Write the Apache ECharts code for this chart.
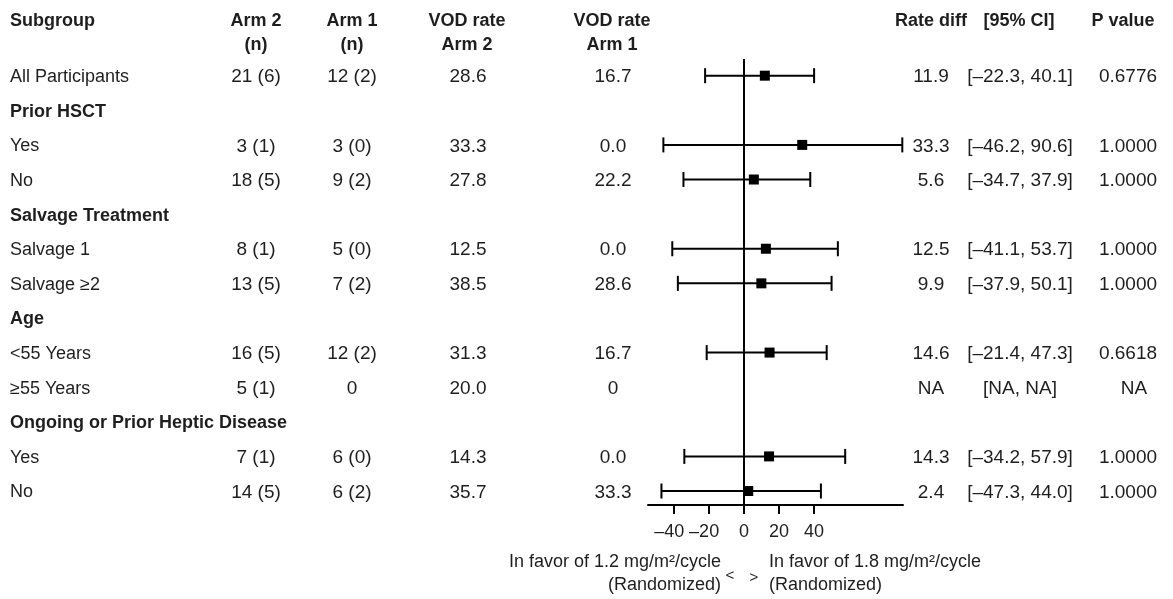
<!DOCTYPE html>
<html>
<head>
<meta charset="utf-8">
<script src="https://cdn.jsdelivr.net/npm/echarts@6/dist/echarts.min.js"></script>
<style>html,body{margin:0;padding:0;background:#fff;}#c{width:1173px;height:599px;}</style>
</head>
<body>
<div id="c"></div>
<script>
// ---- data ----
const subgroups = ["All Participants","Prior HSCT","Yes","No","Salvage Treatment","Salvage 1","Salvage \u22652","Age","<55 Years","\u226555 Years","Ongoing or Prior Heptic Disease","Yes","No"];
const isGroupHeader = [false,true,false,false,true,false,false,true,false,false,true,false,false];
const arm2N = ["21 (6)","","3 (1)","18 (5)","","8 (1)","13 (5)","","16 (5)","5 (1)","","7 (1)","14 (5)"];
const arm1N = ["12 (2)","","3 (0)","9 (2)","","5 (0)","7 (2)","","12 (2)","0","","6 (0)","6 (2)"];
const vodArm2 = ["28.6","","33.3","27.8","","12.5","38.5","","31.3","20.0","","14.3","35.7"];
const vodArm1 = ["16.7","","0.0","22.2","","0.0","28.6","","16.7","0","","0.0","33.3"];
const rateDiff = [11.9,null,33.3,5.6,null,12.5,9.9,null,14.6,'NA',null,14.3,2.4];
const ciLow   = [-22.3,null,-46.2,-34.7,null,-41.1,-37.9,null,-21.4,'NA',null,-34.2,-47.3];
const ciHigh  = [40.1,null,90.6,37.9,null,53.7,50.1,null,47.3,'NA',null,57.9,44.0];
const pValue  = ["0.6776","","1.0000","1.0000","","1.0000","1.0000","","0.6618","NA","","1.0000","1.0000"];
const xTicks = [-40,-20,0,20,40];

// ---- styling ----
const FONT = '"Liberation Sans", Arial, Helvetica, sans-serif';
const FS = 18;
const FSN = 19;
const TXT = '#1e1e1e';
const col = {sub:10, arm2:256, arm1:352, vod2:468, vod1:613, diff:931, ci:1020, p:1128};

const fmt = v => (typeof v === 'number') ? v.toFixed(1).replace('-', '\u2013') : v;
const isNum = v => typeof v === 'number';

const tableData = subgroups.map((s, i) => [0, i]);
const barData = [];
const pointData = [];
subgroups.forEach((s, i) => {
  if (isNum(ciLow[i]) && isNum(ciHigh[i])) barData.push([ciLow[i], ciHigh[i], i]);
  if (isNum(rateDiff[i])) pointData.push([rateDiff[i], i]);
});

const chart = echarts.init(document.getElementById('c'), null, {renderer: 'canvas'});

function textEl(text, x, y, align, bold, fs) {
  return {type: 'text', silent: true, style: {text, x, y, align, verticalAlign: 'middle',
    fontSize: fs || FS, fontFamily: FONT, fontWeight: bold ? 'bold' : 'normal', fill: TXT}};
}

const headerStyle = (text, x, align) => ({
  type: 'text', silent: true,
  style: {text, x, y: 9, align, verticalAlign: 'top', lineHeight: 24,
    fontSize: FS, fontFamily: FONT, fontWeight: 'bold', fill: TXT}
});

const option = {
  animation: false,
  backgroundColor: '#fff',
  grid: {left: 648, right: 270, top: 59, bottom: 94, containLabel: false},
  xAxis: {
    type: 'value', min: -55, max: 91,
    splitLine: {show: false},
    axisLine: {show: true, onZero: false, lineStyle: {color: '#000', width: 2}},
    axisTick: {show: true, customValues: xTicks, length: 9, lineStyle: {color: '#000', width: 2}},
    axisLabel: {
      show: true, customValues: xTicks, margin: 18,
      fontSize: FS, fontFamily: FONT, color: TXT,
      formatter: v => v < 0 ? ('\u2013' + Math.abs(v) + '{pad|}') : String(v),
      rich: {pad: {width: 10}}
    }
  },
  yAxis: {
    type: 'value', inverse: true, min: -0.482, max: 12.404, show: false
  },
  graphic: [
    headerStyle('Subgroup', col.sub, 'left'),
    headerStyle('Arm 2\n(n)', 256, 'center'),
    headerStyle('Arm 1\n(n)', 352, 'center'),
    headerStyle('VOD rate\nArm 2', 467, 'center'),
    headerStyle('VOD rate\nArm 1', 612, 'center'),
    headerStyle('Rate diff', 931, 'center'),
    headerStyle('[95% CI]', 1019, 'center'),
    headerStyle('P value', 1123, 'center'),
    {type: 'text', silent: true, style: {text: 'In favor of 1.2 mg/m\u00b2/cycle\n(Randomized)', x: 721, y: 551, align: 'right', verticalAlign: 'top', lineHeight: 23, fontSize: FS, fontFamily: FONT, fill: TXT}},
    {type: 'text', silent: true, style: {text: '<', x: 730, y: 576, align: 'center', verticalAlign: 'middle', fontSize: 15, fontFamily: FONT, fill: TXT}},
    {type: 'text', silent: true, style: {text: '>', x: 754, y: 578, align: 'center', verticalAlign: 'middle', fontSize: 15, fontFamily: FONT, fill: TXT}},
    {type: 'text', silent: true, style: {text: 'In favor of 1.8 mg/m\u00b2/cycle\n(Randomized)', x: 769, y: 551, align: 'left', verticalAlign: 'top', lineHeight: 23, fontSize: FS, fontFamily: FONT, fill: TXT}}
  ],
  series: [
    {
      type: 'custom', name: 'table', clip: false, silent: true,
      data: tableData,
      renderItem: function (params, api) {
        const i = api.value(1);
        const y = api.coord([0, i])[1] + 1.5;
        const ch = [];
        const add = (t, x, a, b, fs) => { if (t !== '' && t !== null && t !== undefined) ch.push(textEl(t, x, y, a, b, fs)); };
        add(subgroups[i], col.sub, 'left', isGroupHeader[i]);
        add(arm2N[i], col.arm2, 'center', false, FSN);
        add(arm1N[i], col.arm1, 'center', false, FSN);
        add(vodArm2[i], col.vod2, 'center', false, FSN);
        add(vodArm1[i], col.vod1, 'center', false, FSN);
        if (rateDiff[i] !== null) add(fmt(rateDiff[i]), col.diff, 'center', false, FSN);
        if (ciLow[i] !== null) add('[' + fmt(ciLow[i]) + ', ' + fmt(ciHigh[i]) + ']', col.ci, 'center', false, FSN);
        add(pValue[i], pValue[i] === 'NA' ? col.p + 6 : col.p, 'center', false, FSN);
        return {type: 'group', children: ch};
      },
      markLine: {
        silent: true, symbol: ['none', 'none'], label: {show: false},
        lineStyle: {color: '#000', width: 2, type: 'solid'},
        data: [{xAxis: 0}]
      }
    },
    {
      type: 'custom', name: 'ci', clip: false, silent: true,
      data: barData,
      renderItem: function (params, api) {
        const p1 = api.coord([api.value(0), api.value(2)]);
        const p2 = api.coord([api.value(1), api.value(2)]);
        const h = 7.5;
        const st = {stroke: '#000', lineWidth: 2};
        return {type: 'group', children: [
          {type: 'line', shape: {x1: p1[0], y1: p1[1], x2: p2[0], y2: p2[1]}, style: st},
          {type: 'line', shape: {x1: p1[0], y1: p1[1] - h, x2: p1[0], y2: p1[1] + h}, style: st},
          {type: 'line', shape: {x1: p2[0], y1: p2[1] - h, x2: p2[0], y2: p2[1] + h}, style: st}
        ]};
      },
      z: 3
    },
    {
      type: 'scatter', name: 'diff', silent: true,
      data: pointData, symbol: 'rect', symbolSize: 10,
      itemStyle: {color: '#000', opacity: 1}, z: 4
    }
  ]
};
chart.setOption(option);
</script>
</body>
</html>
